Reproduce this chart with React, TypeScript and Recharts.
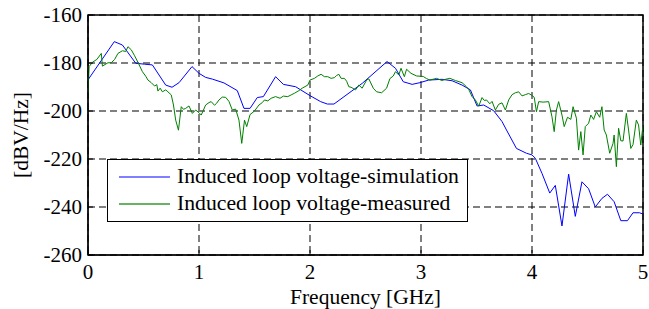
import React from "react";
import {
  LineChart,
  Line,
  XAxis,
  YAxis,
  CartesianGrid,
  ReferenceArea,
  Legend,
} from "recharts";

const FONT = "'Liberation Serif', 'Times New Roman', serif";

const xTicks = [0, 1, 2, 3, 4, 5];
const yTicks = [-260, -240, -220, -200, -180, -160];
const seriesNames = ["Induced loop voltage-simulation", "Induced loop voltage-measured"];
const seriesColors = ["#0000ff", "#008000"];

// simulated induced loop voltage (GHz, dBV/Hz)
const simFreq = [
  0, 0.237, 0.31, 0.43, 0.51, 0.58, 0.7, 0.757, 0.82, 0.937, 1.0, 1.06, 1.12,
  1.225, 1.345, 1.405, 1.46, 1.525, 1.58, 1.69, 1.76, 1.871, 2.0, 2.096, 2.156,
  2.216, 2.47, 2.694, 2.77, 2.84, 2.92, 2.99, 3.07, 3.19, 3.28, 3.37, 3.445,
  3.505, 3.565, 3.655, 3.73, 3.77, 3.86, 3.95, 4.0, 4.03, 4.09, 4.16, 4.21,
  4.27, 4.33, 4.39, 4.45, 4.51, 4.57, 4.63, 4.68, 4.74, 4.8, 4.86, 4.91, 4.97,
  5.0,
];
const simLevel = [
  -187, -171.1, -172.5, -180.1, -180.5, -180.8, -189.2, -190.1, -188.2, -181.5,
  -184.3, -186, -186.7, -188.3, -191.5, -198.9, -198.9, -194.4, -194, -185.7,
  -188.9, -189.9, -193.6, -196.1, -197.1, -197.1, -188.5, -179.4, -182.2,
  -187.8, -188.9, -188.2, -187.1, -186.8, -187.4, -189.2, -191.2, -197.9,
  -197.5, -199.9, -204.4, -207.9, -215.6, -217.6, -218.3, -219.7, -226, -234.2,
  -231, -247.9, -226.3, -243.9, -229.5, -232.4, -240, -236.4, -234.7, -237.8,
  -245.7, -245.7, -242.4, -242.4, -243,
];

// measured induced loop voltage
const measFreq = [
  0, 0.01, 0.04, 0.08, 0.12, 0.13, 0.18, 0.21, 0.24, 0.27, 0.31, 0.34, 0.36,
  0.39, 0.42, 0.45, 0.49, 0.52, 0.54, 0.57, 0.6, 0.62, 0.63, 0.65, 0.67, 0.7,
  0.72, 0.75, 0.77, 0.79, 0.815, 0.84, 0.86, 0.88, 0.91, 0.94, 0.97, 1.0, 1.02,
  1.06, 1.09, 1.11, 1.14, 1.16, 1.18, 1.21, 1.24, 1.27, 1.3, 1.33, 1.36, 1.385,
  1.41, 1.43, 1.46, 1.5, 1.54, 1.57, 1.59, 1.62, 1.65, 1.69, 1.73, 1.76, 1.8,
  1.83, 1.86, 1.9, 1.93, 1.98, 2.0, 2.04, 2.07, 2.1, 2.13, 2.16, 2.19, 2.22,
  2.24, 2.26, 2.28, 2.31, 2.33, 2.35, 2.37, 2.41, 2.44, 2.47, 2.51, 2.53, 2.57,
  2.6, 2.645, 2.69, 2.72, 2.75, 2.77, 2.8, 2.82, 2.85, 2.87, 2.91, 2.96, 3.02,
  3.05, 3.08, 3.14, 3.19, 3.22, 3.26, 3.31, 3.37, 3.41, 3.43, 3.46, 3.49, 3.52,
  3.55, 3.57, 3.59, 3.62, 3.64, 3.67, 3.7, 3.73, 3.76, 3.79, 3.82, 3.85, 3.88,
  3.91, 3.94, 3.97, 4.0, 4.02, 4.04, 4.06, 4.1, 4.15, 4.18, 4.2, 4.22, 4.24,
  4.27, 4.29, 4.32, 4.35, 4.37, 4.4, 4.42, 4.44, 4.46, 4.48, 4.51, 4.53, 4.555,
  4.58, 4.61, 4.63, 4.65, 4.67, 4.7, 4.73, 4.74, 4.76, 4.78, 4.8, 4.82, 4.85,
  4.87, 4.89, 4.91, 4.94, 4.96, 4.98, 5.0,
];
const measLevel = [
  -192.6, -181.5, -179.7, -178.5, -176, -181.3, -179.9, -179.9, -178.5, -176,
  -174.9, -175.2, -173.2, -174.5, -177, -179.7, -183.6, -185.5, -187.1, -188.2,
  -189.6, -189, -191.7, -190.5, -192, -191.2, -192, -193.3, -197.5, -203.8,
  -208, -198.2, -199.3, -198.9, -197.9, -201, -199.6, -200.7, -201.7, -197.5,
  -196.5, -196.1, -197.6, -196.7, -195.4, -194.2, -194.3, -196, -199.6, -199.2,
  -203.8, -213.5, -203.8, -206.5, -201.5, -200, -197.5, -196.5, -195.4, -195.8,
  -194.7, -194, -194.7, -193.8, -194, -193.3, -192.6, -191.5, -190.5, -189.2,
  -187.1, -186.4, -185.4, -184.7, -185.7, -185.7, -186.4, -186.1, -185.2,
  -184.7, -186.4, -186.4, -187.6, -189.9, -190.1, -191.2, -189.2, -190.5,
  -187.1, -186.6, -190.5, -192, -192.4, -190.5, -186.5, -185.4, -183.6, -185,
  -182.2, -185.7, -182.6, -184.3, -185.4, -185.6, -186.5, -187.1, -186.4,
  -187.3, -186.8, -186.4, -187.3, -188.2, -189.9, -191, -194, -195.4, -198,
  -194.4, -195.6, -195.4, -197, -196, -199.6, -197.2, -196.6, -199.6, -195.4,
  -193.2, -192.4, -192, -193.7, -193.2, -192.7, -193.5, -194.3, -200.3, -196.1,
  -196.3, -196.1, -202.4, -208.6, -199.6, -196.1, -201.7, -206.5, -202.6,
  -203.5, -198.2, -203, -216.3, -208.6, -218.3, -206.5, -205.1, -201.7, -203.5,
  -200.3, -202.6, -198.2, -207.9, -210, -217.6, -213.5, -210, -223.2, -207.2,
  -212.4, -212.5, -201, -207.9, -215.6, -214, -203.8, -205.8, -214.2, -205.8,
];

const simData = simFreq.map((f, i) => ({ f, v: simLevel[i] }));
const measData = measFreq.map((f, i) => ({ f, v: measLevel[i] }));

const textStyle = { fontFamily: FONT, fontSize: 21.5, fill: "#000" };

function XTick({ x, y, payload }: any) {
  return (
    <text x={x} y={y} dy={29} textAnchor="middle" style={{ ...textStyle, fontSize: 21 }}>
      {payload.value}
    </text>
  );
}

function YTick({ x, y, payload }: any) {
  return (
    <text x={x} y={y} dy={7} textAnchor="end" style={{ ...textStyle, fontSize: 21 }}>
      {payload.value}
    </text>
  );
}

function LegendBox() {
  return (
    <div
      style={{
        width: 361,
        height: 63,
        boxSizing: "border-box",
        border: "1px solid #000",
        background: "#fff",
        fontFamily: FONT,
        fontSize: 21.7,
        color: "#000",
        paddingTop: 3,
      }}
    >
      {seriesNames.map((name, i) => (
        <div
          key={name}
          style={{ display: "flex", alignItems: "center", height: 27, whiteSpace: "nowrap" }}
        >
          <svg width={59} height={10} style={{ marginLeft: 10 }}>
            <line
              x1={1}
              x2={52}
              y1={5}
              y2={5}
              stroke={seriesColors[i]}
              strokeWidth={i === 1 ? 2 : 1.2}
              strokeOpacity={i === 1 ? 0.6 : 1}
            />
          </svg>
          <span>{name}</span>
        </div>
      ))}
    </div>
  );
}

export default function App() {
  return (
    <div style={{ position: "absolute", left: 0, top: 0, background: "#fff" }}>
      <LineChart
        width={649}
        height={309}
        margin={{ top: 15, right: 6, left: 0, bottom: 0 }}
      >
        <CartesianGrid stroke="#000" strokeDasharray="7 4" strokeWidth={1} />
        <XAxis
          dataKey="f"
          type="number"
          domain={[0, 5]}
          ticks={xTicks}
          allowDataOverflow
          height={54}
          tick={<XTick />}
          tickSize={-5}
          tickMargin={0}
          stroke="#000"
          label={{
            value: "Frequency [GHz]",
            position: "insideBottom",
            offset: 5,
            style: textStyle,
          }}
        />
        <YAxis
          type="number"
          domain={[-260, -160]}
          ticks={yTicks}
          allowDataOverflow
          width={88}
          tick={<YTick />}
          tickSize={-5}
          tickMargin={11}
          stroke="#000"
          label={{
            content: ({ viewBox }: any) => (
              <text
                x={21}
                y={viewBox.y + viewBox.height / 2}
                transform={`rotate(-90, 21, ${viewBox.y + viewBox.height / 2})`}
                textAnchor="middle"
                dominantBaseline="central"
                style={textStyle}
              >
                [dBV/Hz]
              </text>
            ),
          }}
        />
        <ReferenceArea
          x1={0}
          x2={5}
          y1={-260}
          y2={-160}
          fill="none"
          stroke="#000"
          strokeWidth={1.5}
          fillOpacity={0}
        />
        <Line
          data={simData}
          dataKey="v"
          name={seriesNames[0]}
          stroke={seriesColors[0]}
          strokeWidth={1}
          dot={false}
          isAnimationActive={false}
        />
        <Line
          data={measData}
          dataKey="v"
          name={seriesNames[1]}
          stroke={seriesColors[1]}
          strokeWidth={1}
          dot={false}
          isAnimationActive={false}
        />
        <Legend
          layout="horizontal"
          verticalAlign="middle"
          align="center"
          content={<LegendBox />}
          wrapperStyle={{ left: 107, top: 159, width: 361, height: 63 }}
        />
      </LineChart>
    </div>
  );
}
